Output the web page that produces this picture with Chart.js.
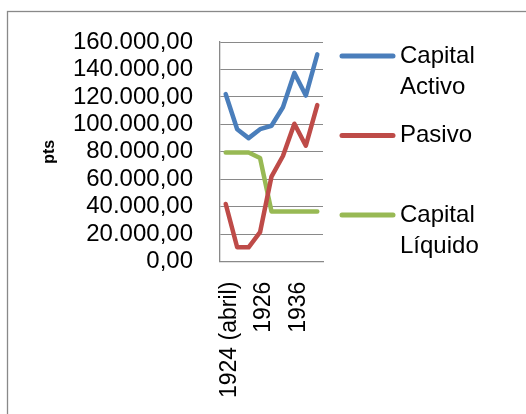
<!DOCTYPE html>
<html>
<head>
<meta charset="utf-8">
<script src="https://cdn.jsdelivr.net/npm/chart.js@4"></script>
<style>
  html, body { margin: 0; padding: 0; background: #fff; }
  #wrap { width: 526px; height: 414px; position: relative; }
</style>
</head>
<body>
<div id="wrap"><canvas id="chart"></canvas></div>
<script>
// categories (only every third one is labelled in the picture)
var years = ['1924 (abril)', '1924 (dic.)', '1925', '1926', '1929', '1933', '1936', '1938', '1940'];

var capitalActivo = [122000, 96500, 90000, 96500, 99000, 112500, 137500, 121000, 151000];
var pasivo = [42000, 10500, 10500, 21500, 62000, 77000, 100500, 84500, 114000];
var capitalLiquido = [79500, 79500, 79500, 75500, 36500, 36500, 36500, 36500, 36500];

var seriesNames = ['Capital Activo', 'Pasivo', 'Capital Líquido'];
var yTicks = { min: 0, max: 160000, step: 20000 };

var FONT = 'Liberation Sans';
var GREY = '#898989';

function fmtEs(v) {
  return Math.round(v).toString().replace(/\B(?=(\d{3})+(?!\d))/g, '.') + ',00';
}

// outer frame of the chart object (only top and left edges fall inside the picture)
var framePlugin = {
  id: 'frame',
  beforeDraw: function(chart) {
    var ctx = chart.ctx;
    ctx.save();
    ctx.strokeStyle = GREY;
    ctx.lineWidth = 1.3;
    ctx.strokeRect(7.5, 11.5, 1000, 1000);
    ctx.restore();
  }
};

// Excel-like legend: names wrap on two lines, line sample next to first line
var legendPlugin = {
  id: 'sideLegend',
  afterDraw: function(chart) {
    var ctx = chart.ctx;
    var x0 = chart.chartArea.right + 17;
    var y0 = 56, step = 79.5, lineH = 31;
    ctx.save();
    ctx.font = '24px "' + FONT + '"';
    ctx.textBaseline = 'middle';
    ctx.textAlign = 'left';
    chart.data.datasets.forEach(function(ds, i) {
      var y = y0 + i * step;
      ctx.strokeStyle = ds.borderColor;
      ctx.lineWidth = 5;
      ctx.lineCap = 'round';
      ctx.beginPath();
      ctx.moveTo(x0 + 2, y);
      ctx.lineTo(x0 + 53, y);
      ctx.stroke();
      ctx.fillStyle = '#000';
      ds.label.split(' ').forEach(function(word, j) {
        ctx.fillText(word, x0 + 60, y + j * lineH);
      });
    });
    ctx.restore();
  }
};

var ctx = document.getElementById('chart').getContext('2d');

var chart = new Chart(ctx, {
  type: 'line',
  data: {
    labels: years,
    datasets: [{
      label: seriesNames[0],
      data: capitalActivo,
      borderColor: '#4A7EBB',
      backgroundColor: '#4A7EBB'
    }, {
      label: seriesNames[1],
      data: pasivo,
      borderColor: '#BE4B48',
      backgroundColor: '#BE4B48'
    }, {
      label: seriesNames[2],
      data: capitalLiquido,
      borderColor: '#98B954',
      backgroundColor: '#98B954'
    }]
  },
  options: {
    responsive: true,
    maintainAspectRatio: false,
    animation: false,
    layout: {
      padding: { left: 8, top: 42, right: 203, bottom: 0 }
    },
    elements: {
      line: { tension: 0, borderWidth: 4.5, borderCapStyle: 'round', borderJoinStyle: 'round' },
      point: { radius: 0, hoverRadius: 0 }
    },
    plugins: {
      legend: { display: false },
      tooltip: { enabled: false }
    },
    scales: {
      x: {
        offset: true,
        grid: { display: false, drawTicks: false },
        border: { display: true, color: GREY, width: 1.3 },
        ticks: {
          autoSkip: false,
          minRotation: 90,
          maxRotation: 90,
          padding: 20,
          labelOffset: 4,
          color: '#000',
          font: { family: FONT, size: 23 },
          callback: function(v, i) { return i % 3 === 0 ? years[i] : ''; }
        },
        afterFit: function(scale) { scale.height = 152.3; }
      },
      y: {
        min: yTicks.min,
        max: yTicks.max,
        grid: { color: GREY, lineWidth: 1, drawTicks: false },
        border: { display: true, color: GREY, width: 1.3 },
        ticks: {
          stepSize: yTicks.step,
          autoSkip: false,
          padding: 27,
          color: '#000',
          font: { family: FONT, size: 24 },
          callback: function(v) { return fmtEs(v); }
        },
        title: {
          display: true,
          text: 'pts',
          color: '#000',
          font: { family: FONT, size: 16, weight: 'bold' },
          padding: { top: 32, bottom: 0 }
        },
        afterFit: function(scale) { scale.width = 212; }
      }
    }
  },
  plugins: [framePlugin, legendPlugin]
});
</script>
</body>
</html>
